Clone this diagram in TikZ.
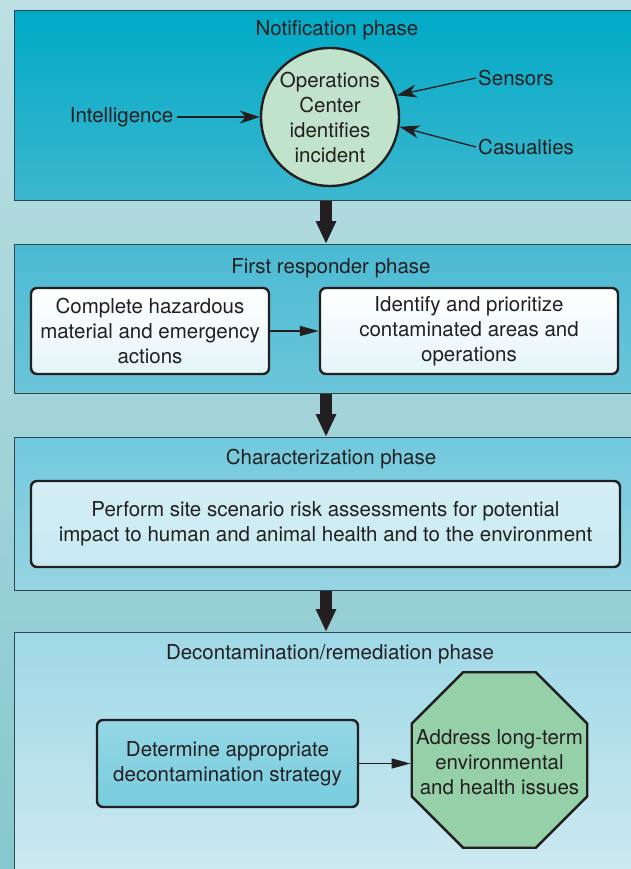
\documentclass[tikz,border=0pt]{standalone}
\usepackage{fontspec}
\setmainfont{TeX Gyre Heros}
\usetikzlibrary{arrows.meta}
\usetikzlibrary{shapes.geometric}

\definecolor{ink}{HTML}{231F20}
\definecolor{frame}{HTML}{2D4650}
\definecolor{bgtop}{HTML}{BCDFE3}
\definecolor{bgbot}{HTML}{86C8CE}
\definecolor{notiftop}{HTML}{00AAC6}
\definecolor{notifbot}{HTML}{3DB7CF}
\definecolor{firsttop}{HTML}{4BBAD3}
\definecolor{firstbot}{HTML}{6CC5D9}
\definecolor{chartop}{HTML}{72C9DD}
\definecolor{charbot}{HTML}{96D4E3}
\definecolor{decontop}{HTML}{9FD8E7}
\definecolor{deconbot}{HTML}{D2EBF1}
\definecolor{paleleaf}{HTML}{C2E3CB}
\definecolor{leaf}{HTML}{96D0A8}

\begin{document}
\begin{tikzpicture}[x=1pt, y=-1pt,
    font=\fontsize{20.5}{25}\selectfont, text=ink,
    phase/.style={draw=frame, line width=1.2pt, anchor=north west, minimum width=634pt, inner sep=0pt},
    stepbox/.style={draw=ink, line width=2.4pt, rounded corners=6pt, align=center, inner sep=0pt},
    feed/.style={draw=ink, line width=1.3pt, -{Stealth[length=20pt,width=13pt,inset=6pt]}},
    link/.style={draw=ink, line width=1.3pt, -{Triangle[length=19pt,width=10pt]}},
    bigarrow/.style={draw=ink, line width=12pt, -{Triangle[length=23pt,width=19pt]}}]

    % Canvas
    \useasboundingbox (0,0) rectangle (631,869);
    \clip (0,0) rectangle (631,869);
    \fill[top color=bgtop, bottom color=bgbot] (0,0) rectangle (631,869);

    % Phases
    \node[phase, minimum height=190pt, top color=notiftop, bottom color=notifbot] (notif) at (14,10) {};
    \node[phase, minimum height=149pt, top color=firsttop, bottom color=firstbot] (first) at (14,244) {};
    \node[phase, minimum height=153pt, top color=chartop, bottom color=charbot] (charac) at (14,437) {};
    \node[phase, minimum height=268pt, top color=decontop, bottom color=deconbot] (decon) at (14,632) {};

    \node (notiftitle) at (337,30) {Notification phase};
    \node (firsttitle) at (331,268) {First responder phase};
    \node (charactitle) at (331,459) {Characterization phase};
    \node (decontitle) at (330,654) {Decontamination/remediation phase};

    % Flow between phases
    \coordinate (spine) at (326,0);
    \draw[bigarrow] (notif.south -| spine) -- (first.north -| spine);
    \draw[bigarrow] (first.south -| spine) -- (charac.north -| spine);
    \draw[bigarrow] (charac.south -| spine) -- (decon.north -| spine);

    % Notification
    \node[circle, draw=ink, line width=2.4pt, fill=paleleaf, align=center, inner sep=0pt, minimum size=138pt]
        (ops) at (330,117) {Operations\\Center\\identifies\\incident};
    \node[inner sep=4pt] (intel) at (121.5,117) {Intelligence};
    \node[anchor=west, inner sep=2pt] (sensors) at (476,78) {Sensors};
    \node[anchor=west, inner sep=2pt] (casual) at (476,147) {Casualties};
    \draw[feed] (intel) -- (ops.west);
    \draw[feed] (sensors.west) -- (ops.18);
    \draw[feed] (casual.west) -- (ops.-8);

    % First responder
    \node[stepbox, minimum width=238pt, minimum height=86pt, top color=white, bottom color=firstbot!18]
        (hazmat) at (150,331) {Complete hazardous\\material and emergency\\actions};
    \node[stepbox, minimum width=298pt, minimum height=86pt, top color=white, bottom color=firstbot!18]
        (areas) at (469,331) {Identify and prioritize\\contaminated areas and\\operations};
    \draw[link] (hazmat) -- (areas);

    % Characterization
    \node[stepbox, minimum width=589pt, minimum height=86pt, top color=chartop!30, bottom color=chartop!40]
        (risk) at (325.5,524) {Perform site scenario risk assessments for potential\\impact to human and animal health and to the environment};

    % Decontamination
    \node[stepbox, minimum width=261pt, minimum height=87pt, top color=chartop!75, bottom color=notifbot!70]
        (strategy) at (227.5,763.5) {Determine appropriate\\decontamination strategy};
    \node[regular polygon, regular polygon sides=8, draw=ink, line width=2.4pt, fill=leaf,
        inner sep=0pt, minimum size=190pt] (issues) at (499.5,760) {};
    \node[align=center, inner sep=0pt] (issuestext) at (499.5,762) {Address long-term\\environmental\\and health issues};
    \draw[link] (strategy.east) -- (strategy.east -| issues.west);
\end{tikzpicture}
\end{document}
